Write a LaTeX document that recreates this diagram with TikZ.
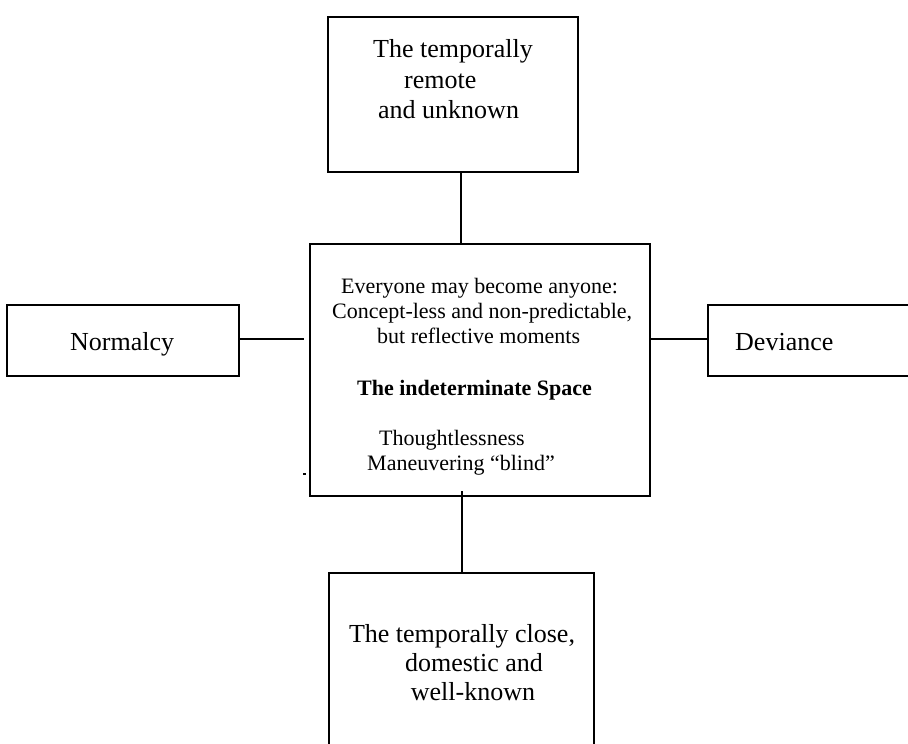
\documentclass[tikz,border=0pt]{standalone}
\usepackage{fontspec}
\setmainfont{Liberation Serif}
\begin{document}
\begin{tikzpicture}[x=1pt,y=-1pt,
  box/.style={draw=black, line width=2pt, rectangle, inner sep=0pt},
  link/.style={draw=black, line width=1.5pt},
  bigtext/.style={anchor=base west, inner sep=0pt, font=\fontsize{26}{30}\selectfont},
  midtext/.style={anchor=base west, inner sep=0pt, font=\fontsize{22}{25}\selectfont}]
\useasboundingbox (0,0) rectangle (908,744);

% frames
\node[box, minimum width=250pt, minimum height=155pt] (remote) at (453,94.5) {};
\node[box, minimum width=340pt, minimum height=252pt] (space) at (480,370) {};
\node[box, minimum width=232pt, minimum height=71pt] (normal) at (123,340.5) {};
\node[box, minimum width=204pt, minimum height=71pt] (deviant) at (810,340.5) {};
\node[box, minimum width=265pt, minimum height=174pt] (close) at (461.5,660) {};

% connectors
\coordinate (lstub) at (304,339);
\draw[link] (remote.south -| 461,0) -- (space.north -| 461,0);
\draw[link] (normal.east |- lstub) -- (lstub);
\draw[link] (space.east |- lstub) -- (deviant.west |- lstub);
\coordinate (btop) at (462,491);
\draw[link] (btop) -- (close.north -| btop);

% stray tick beside the central frame
\coordinate (tick) at (304,473.5);
\fill (tick) ++(-1.5,-1) rectangle ++(3,2);

% top frame
\node[bigtext] (r1) at (373,57) {The temporally};
\node[bigtext] (r2) at (404,88) {remote};
\node[bigtext] (r3) at (378,118) {and unknown};

% side frames
\node[bigtext] (n1) at (70,350) {Normalcy};
\node[bigtext] (d1) at (735,350) {Deviance};

% central frame
\node[midtext] (s1) at (341,293) {Everyone may become anyone:};
\node[midtext] (s2) at (332,318) {Concept-less and non-predictable,};
\node[midtext] (s3) at (377,343) {but reflective moments};
\node[midtext, font=\fontsize{22}{25}\selectfont\bfseries] (s4) at (357,395) {The indeterminate Space};
\node[midtext] (s5) at (379,445) {Thoughtlessness};
\node[midtext] (s6) at (367,470) {Maneuvering “blind”};

% bottom frame
\node[bigtext, anchor=base] (c1) at (462,642) {The temporally close,};
\node[bigtext, anchor=base] (c2) at (474,671) {domestic and};
\node[bigtext, anchor=base] (c3) at (473,700) {well-known};
\end{tikzpicture}
\end{document}
